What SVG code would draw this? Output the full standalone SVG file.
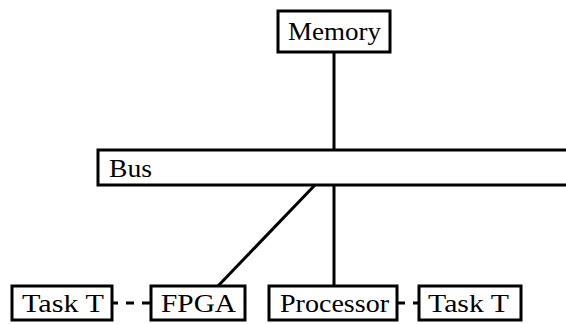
<svg xmlns="http://www.w3.org/2000/svg" width="566" height="324" viewBox="0 0 566 324">
  <style>
    .box { fill: #fff; stroke: #000; stroke-width: 3; }
    .lbl { font-family: "Liberation Serif", "Times New Roman", serif; font-size: 25px; fill: #000; }
    .wire { stroke: #000; stroke-width: 3; fill: none; }
    .dash { stroke: #000; stroke-width: 3; fill: none; stroke-dasharray: 8 8; }
  </style>
  <rect width="566" height="324" fill="#fff"/>

  <!-- connectors -->
  <g id="connectors">
    <line class="wire" x1="334" y1="52" x2="334" y2="150"/>
    <line class="wire" x1="315" y1="185" x2="218" y2="286"/>
    <line class="wire" x1="334" y1="185" x2="334" y2="286"/>
    <line class="dash" x1="112" y1="303" x2="151" y2="303" stroke-dashoffset="2"/>
    <line class="dash" x1="397" y1="303" x2="419" y2="303" stroke-dasharray="11 7"/>
  </g>

  <g id="memory">
    <rect class="box" x="278" y="11" width="112" height="41"/>
    <text class="lbl" x="288" y="40" textLength="93" lengthAdjust="spacingAndGlyphs">Memory</text>
  </g>

  <g id="bus">
    <rect class="box" x="98" y="150" width="490" height="35"/>
    <text class="lbl" x="109" y="177" textLength="43" lengthAdjust="spacingAndGlyphs">Bus</text>
  </g>

  <g id="task-left">
    <rect class="box" x="12" y="286" width="100" height="34"/>
    <text class="lbl" x="22" y="312" textLength="82" lengthAdjust="spacingAndGlyphs">Task T</text>
  </g>

  <g id="fpga">
    <rect class="box" x="151" y="286" width="94" height="34"/>
    <text class="lbl" x="161" y="312" textLength="75" lengthAdjust="spacingAndGlyphs">FPGA</text>
  </g>

  <g id="processor">
    <rect class="box" x="269" y="286" width="128" height="34"/>
    <text class="lbl" x="280" y="312" textLength="109" lengthAdjust="spacingAndGlyphs">Processor</text>
  </g>

  <g id="task-right">
    <rect class="box" x="419" y="286" width="102" height="34"/>
    <text class="lbl" x="428" y="312" textLength="81" lengthAdjust="spacingAndGlyphs">Task T</text>
  </g>
</svg>
